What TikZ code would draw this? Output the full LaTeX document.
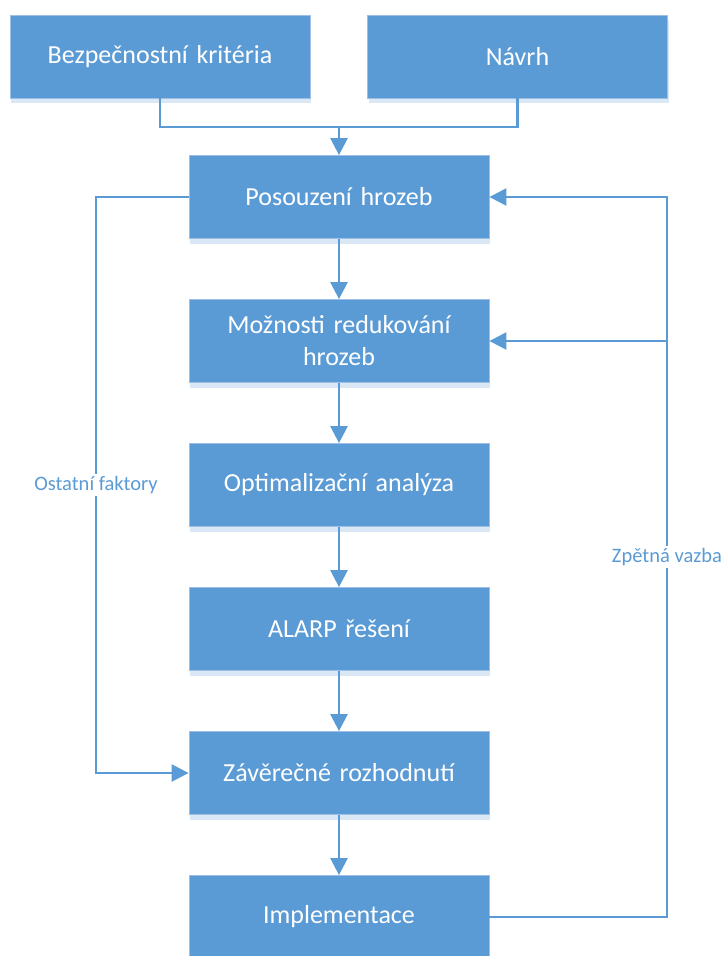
\documentclass[tikz,border=0pt]{standalone}
\usepackage{fontspec}
\setmainfont{Carlito}
\usetikzlibrary{arrows.meta,shadows}
\definecolor{boxblue}{HTML}{5B9BD5}
\definecolor{rimblue}{HTML}{9DC0E4}
\definecolor{shadeblue}{HTML}{DAE7F5}

\begin{document}
\begin{tikzpicture}[x=1pt, y=-1pt,
  box/.style={draw=rimblue, line width=0.8pt, fill=boxblue, text=white,
    minimum width=300pt, minimum height=83pt, inner sep=0pt,
    text width=290pt, align=center,
    font=\fontsize{26}{32}\selectfont,
    general shadow={fill=shadeblue, shadow xshift=1pt, shadow yshift=-5pt}},
  link/.style={boxblue, line width=2.5pt},
  arrow/.style={link, -{Triangle[length=17pt, width=17pt]}},
  tag/.style={fill=white, text=boxblue, inner sep=2pt,
    font=\fontsize{20.5}{24}\selectfont}]
\useasboundingbox (0,0) rectangle (726,956);

% Top row
\node[box] (krit) at (160,56.5) {Bezpečnostní kritéria};
\node[box] (navrh) at (517.5,56.5) {Návrh};

% Main column
\node[box] (hrozby) at (339,197) {Posouzení hrozeb};
\node[box] (redukce) at (339,341) {Možnosti redukování\\hrozeb};
\node[box] (optim) at (339,485) {Optimalizační analýza};
\node[box] (alarp) at (339,629) {ALARP řešení};
\node[box] (zaver) at (339,773) {Závěrečné rozhodnutí};
\node[box] (impl) at (339,917) {Implementace};

% Joints
\coordinate (spoj) at (339,127);
\coordinate (levy) at (96,197);
\coordinate (pravy) at (667,917);
\coordinate (odbocka) at (667,341);

% Arrows
\draw[link] (krit.south) |- (spoj) -| (navrh.south);
\draw[arrow] (spoj) -- (hrozby.north);
\foreach \a/\b in {hrozby/redukce, redukce/optim, optim/alarp, alarp/zaver, zaver/impl}
  \draw[arrow] (\a) -- (\b);

% Side loops
\draw[arrow] (hrozby.west) -- (levy) |- (zaver.west);
\draw[arrow] (impl.east) -- (pravy) |- (hrozby.east);
\draw[arrow] (odbocka) -- (redukce.east);

% Labels
\node[tag] (faktory) at (96,485) {Ostatní faktory};
\node[tag] (vazba) at (667,557) {Zpětná vazba};
\end{tikzpicture}
\end{document}
